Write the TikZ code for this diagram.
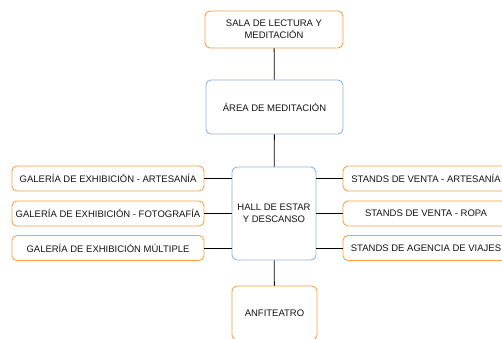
\documentclass[tikz,border=0pt]{standalone}
\usepackage{fontspec}
\setmainfont{Liberation Sans}
\definecolor{boxorange}{RGB}{250,160,70}
\definecolor{boxblue}{RGB}{140,180,226}
\definecolor{txt}{RGB}{20,20,20}
\begin{document}
\begin{tikzpicture}[x=1pt,y=-1pt,
  base/.style={draw, line width=0.9pt, rounded corners=5pt, align=center, inner sep=1pt,
    font=\fontsize{9.5}{12}\selectfont, text=txt},
  obox/.style={base, draw=boxorange},
  bbox/.style={base, draw=boxblue},
  conn/.style={draw=black, line width=0.8pt}]
\useasboundingbox (0,0) rectangle (502,338);
\clip (0,0) rectangle (502,338);
\fill[white] (0,0) rectangle (502,338);
\node[obox, minimum width=138pt, minimum height=37pt] (sala) at (274,29.5) {SALA DE LECTURA Y\\MEDITACIÓN};
\node[bbox, minimum width=137pt, minimum height=54pt] (area) at (274.5,107) {ÁREA DE MEDITACIÓN};
\node[bbox, minimum width=84pt, minimum height=93pt] (hall) at (274,213.5) {HALL DE ESTAR\\Y DESCANSO};
\node[obox, minimum width=85pt, minimum height=54pt] (anfi) at (274.5,313) {ANFITEATRO};
\node[obox, minimum width=192pt, minimum height=25pt] (l1) at (108,178.5) {GALERÍA DE EXHIBICIÓN - ARTESANÍA};
\node[obox, minimum width=192pt, minimum height=25pt] (l2) at (108,213.5) {GALERÍA DE EXHIBICIÓN - FOTOGRAFÍA};
\node[obox, minimum width=192pt, minimum height=25pt] (l3) at (108,248) {GALERÍA DE EXHIBICIÓN MÚLTIPLE};
\node[obox, minimum width=166pt, minimum height=25pt] (r1) at (426,178.5) {STANDS DE VENTA - ARTESANÍA};
\node[obox, minimum width=166pt, minimum height=25pt] (r2) at (426,213.5) {STANDS DE VENTA - ROPA};
\node[obox, minimum width=166pt, minimum height=25pt] (r3) at (426,248) {STANDS DE AGENCIA DE VIAJES};
\draw[conn] (sala) -- (area);
\draw[conn] (area) -- (hall);
\draw[conn] (hall) -- (anfi);
\draw[conn] (l1.east) -- (l1.east -| hall.west);
\draw[conn] (l2.east) -- (l2.east -| hall.west);
\draw[conn] (l3.east) -- (l3.east -| hall.west);
\draw[conn] (r1.west -| hall.east) -- (r1.west);
\draw[conn] (r2.west -| hall.east) -- (r2.west);
\draw[conn] (r3.west -| hall.east) -- (r3.west);
\end{tikzpicture}
\end{document}
